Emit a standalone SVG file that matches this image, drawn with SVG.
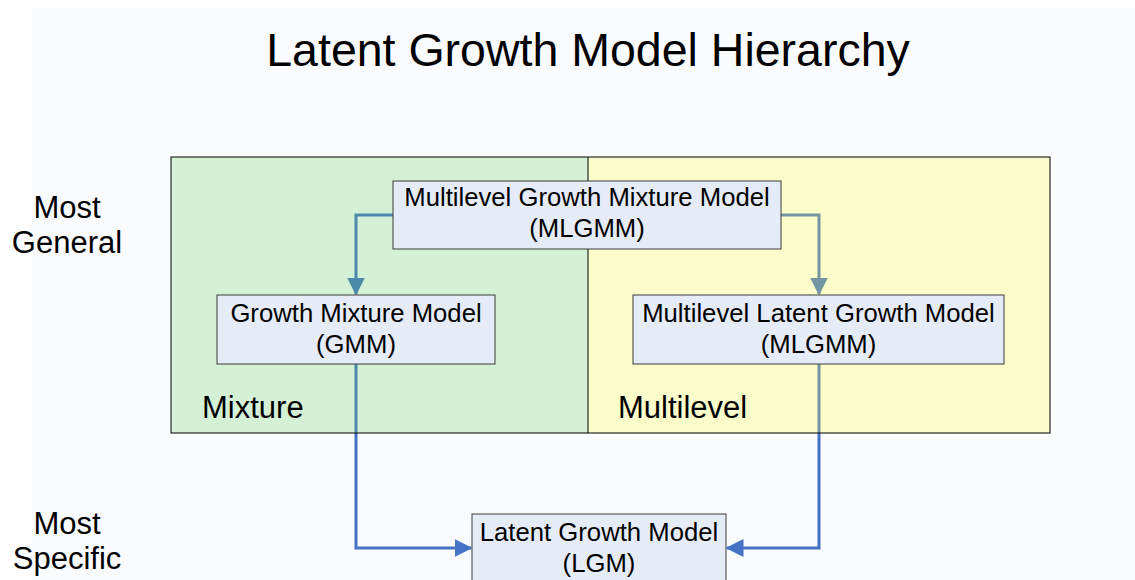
<svg xmlns="http://www.w3.org/2000/svg" width="1135" height="580" viewBox="0 0 1135 580">
<style>
text{font-family:"Liberation Sans",Arial,sans-serif;fill:#000}
.node{fill:#e6ecf7;stroke:#3a3a3a;stroke-width:1}
.nt{font-size:25.7px;text-anchor:middle}
.side{font-size:31px;text-anchor:middle}
.pl{font-size:31px}
.c{fill:none;stroke:#4472c4;stroke-width:3}
</style>
<defs>
<marker id="ah" markerWidth="6" markerHeight="6" refX="5.5" refY="3" orient="auto" markerUnits="strokeWidth" viewBox="0 0 6 6">
<path d="M0,0 L6,3 L0,6 Z" fill="#4472c4"/>
</marker>
</defs>
<rect x="0" y="0" width="1135" height="580" fill="#ffffff"/>
<rect x="32" y="8" width="1103" height="572" fill="#fafbfd"/>
<text x="588" y="66" font-size="46.5" text-anchor="middle">Latent Growth Model Hierarchy</text>
<g id="labels">
<text class="side" x="67" y="218">Most</text>
<text class="side" x="67" y="253">General</text>
<text class="side" x="67" y="534">Most</text>
<text class="side" x="67" y="569">Specific</text>
</g>
<g id="connectors">
<path class="c" d="M393,215 H356 V294" marker-end="url(#ah)"/>
<path class="c" d="M781,215 H819 V294" marker-end="url(#ah)"/>
<path class="c" d="M356,364 V548 H471" marker-end="url(#ah)"/>
<path class="c" d="M819,364 V548 H727" marker-end="url(#ah)"/>
</g>
<g id="panels">
<rect x="171" y="157" width="417" height="276" fill="#62d262" fill-opacity="0.25"/>
<rect x="588" y="157" width="462" height="276" fill="#fafe32" fill-opacity="0.25"/>
<rect x="171" y="157" width="879" height="276" fill="none" stroke="#000" stroke-width="1"/>
<line x1="588" y1="157" x2="588" y2="433" stroke="#000" stroke-width="1"/>
<text class="pl" x="202" y="418">Mixture</text>
<text class="pl" x="618" y="418">Multilevel</text>
</g>
<g id="n-mlgmm">
<rect class="node" x="393" y="181" width="388" height="68"/>
<text class="nt" x="587" y="206">Multilevel Growth Mixture Model</text>
<text class="nt" x="587" y="237">(MLGMM)</text>
</g>
<g id="n-gmm">
<rect class="node" x="217" y="295" width="278" height="69"/>
<text class="nt" x="356" y="322">Growth Mixture Model</text>
<text class="nt" x="356" y="353">(GMM)</text>
</g>
<g id="n-mlgm">
<rect class="node" x="633" y="295" width="371" height="69"/>
<text class="nt" x="818.5" y="322">Multilevel Latent Growth Model</text>
<text class="nt" x="818.5" y="353">(MLGMM)</text>
</g>
<g id="n-lgm">
<rect class="node" x="472" y="514" width="254" height="80"/>
<text class="nt" x="599" y="541">Latent Growth Model</text>
<text class="nt" x="599" y="572">(LGM)</text>
</g>
</svg>
